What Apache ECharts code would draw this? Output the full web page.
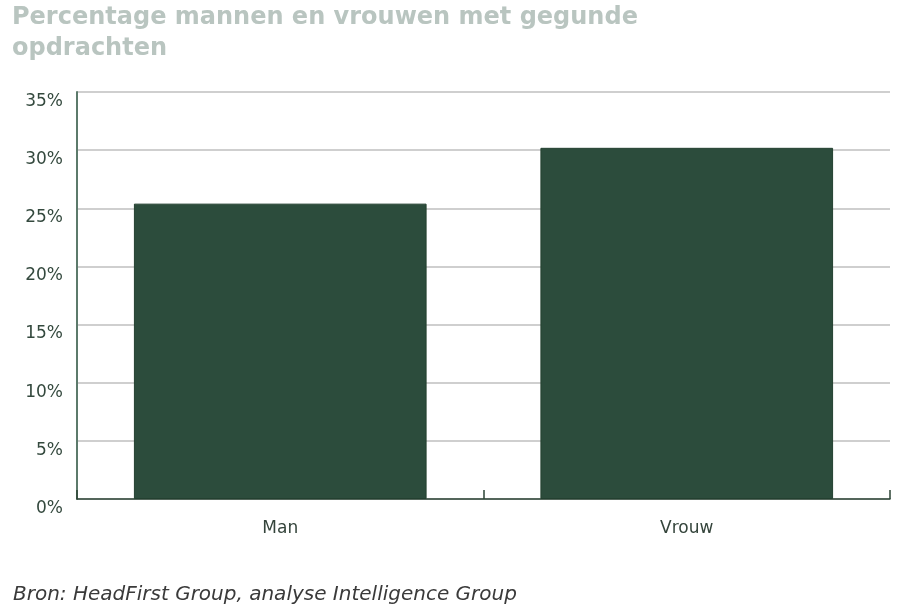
<!DOCTYPE html>
<html>
<head>
<meta charset="utf-8">
<script src="https://cdn.jsdelivr.net/npm/echarts@6/dist/echarts.min.js"></script>
<style>
html, body { margin: 0; padding: 0; background: #fff; }
#main { width: 900px; height: 609px; }
</style>
</head>
<body>
<div id="main"></div>
<script>
// data
var categories = ['Man', 'Vrouw'];
var percentages = [25.4, 30.2];
var yTicks = [0, 5, 10, 15, 20, 25, 30, 35];

var myChart = echarts.init(document.getElementById('main'));
var option = {
	backgroundColor: '#ffffff',
	title: [{
		text: 'Percentage mannen en vrouwen met gegunde\nopdrachten',
		left: 7,
		top: -3,
		textStyle: {
			fontFamily: 'DejaVu Sans',
			fontWeight: 'bold',
			fontSize: 24,
			lineHeight: 31,
			color: '#b9c5c0'
		}
	}, {
		text: 'Bron: HeadFirst Group, analyse Intelligence Group',
		left: 8,
		top: 580,
		textStyle: {
			fontFamily: 'DejaVu Sans',
			fontStyle: 'italic',
			fontWeight: 'normal',
			fontSize: 20,
			color: '#3a3a3a'
		}
	}],
	grid: {
		left: 77,
		right: 10,
		top: 92,
		bottom: 110
	},
	xAxis: {
		type: 'category',
		data: categories,
		axisLine: { lineStyle: { color: '#2c4436', width: 1.5 } },
		axisTick: { show: true, inside: true, length: 9, lineStyle: { color: '#2c4436', width: 1.5 } },
		axisLabel: {
			margin: 21,
			fontFamily: 'DejaVu Sans',
			fontSize: 17,
			color: '#34443b'
		}
	},
	yAxis: {
		type: 'value',
		min: yTicks[0],
		max: yTicks[yTicks.length - 1],
		interval: 5,
		axisLine: { show: true, lineStyle: { color: '#5c7a6b', width: 2 } },
		axisTick: { show: false },
		splitLine: { lineStyle: { color: '#cfcfcf', width: 2 } },
		axisLabel: {
			margin: 14,
			verticalAlign: 'top',
			padding: [1, 0, 0, 0],
			fontFamily: 'DejaVu Sans',
			fontSize: 17,
			color: '#34493e',
			formatter: function (v) { return v + '%'; }
		}
	},
	series: [{
		type: 'bar',
		data: percentages,
		barWidth: '72%',
		itemStyle: {
			color: '#2c4c3c',
			borderColor: '#234030',
			borderWidth: 1
		}
	}]
};
myChart.setOption(option);
</script>
</body>
</html>
